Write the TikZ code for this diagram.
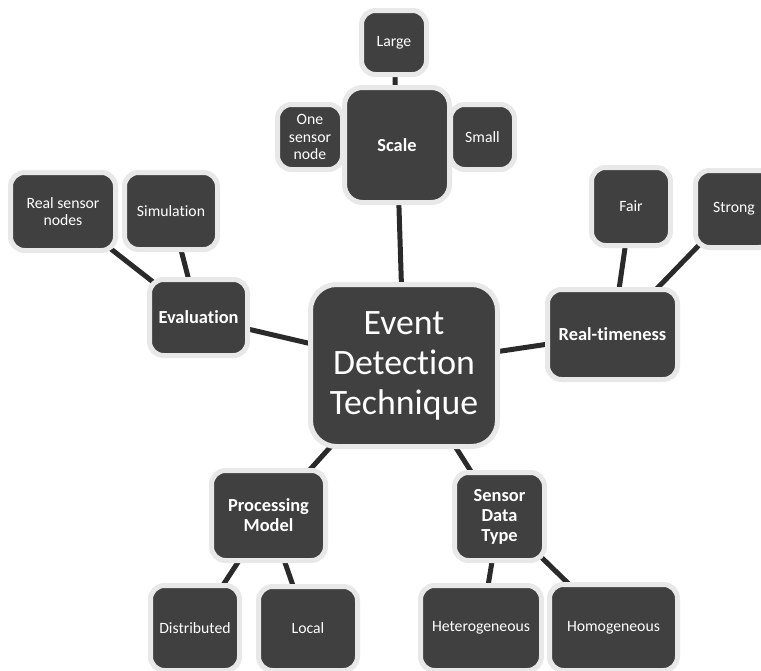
\documentclass[tikz,border=0pt]{standalone}
\usepackage{fontspec}
\setmainfont{Carlito}[Ligatures=NoCommon]
\usetikzlibrary{backgrounds}
\definecolor{boxfill}{HTML}{404040}
\definecolor{boxrim}{HTML}{E8E8E8}
\definecolor{linkcol}{HTML}{2A2A2A}
\def\px{0.75pt}
\tikzset{
  box/.style 2 args={draw=boxrim, fill=boxfill, line width=5*\px, text=white,
    rounded corners=14*\px, inner sep=0pt, align=center,
    minimum width=#1*\px+5*\px, minimum height=#2*\px+5*\px},
  leaf/.style={font=\fontsize{11.8}{13.3}\selectfont},
  topic/.style={font=\fontsize{13.8}{15}\selectfont\bfseries},
  hub/.style={font=\fontsize{26.8}{30}\selectfont, rounded corners=26*\px},
  link/.style={draw=linkcol, line width=5*\px}
}
\begin{document}
\begin{tikzpicture}[x=\px, y=-\px]
\useasboundingbox (0,0) rectangle (761,671);

% central topic
\node[box={182}{157}, hub] (edt) at (404,365.5) {Event\\Detection\\Technique};

% scale
\node[box={100}{110}, topic, rounded corners=18*\px] (scale) at (397,145) {Scale};
\node[box={60}{59}, leaf] (large) at (394,42.5) {Large};
\node[box={60}{60}, leaf] (one) at (310,137) {One\\sensor\\node};
\node[box={59}{60}, leaf] (small) at (482.5,137) {Small};

% evaluation
\node[box={93}{71}, topic] (eval) at (198.5,317.5) {Evaluation};
\node[box={100}{73}, leaf] (real) at (63,211.5) {Real sensor\\nodes};
\node[box={88}{72}, leaf] (sim) at (171,211) {Simulation};

% real-timeness
\node[box={125}{85}, topic] (rt) at (612.5,334.5) {Real-timeness};
\node[box={74}{73}, leaf] (fair) at (631,206.5) {Fair};
\node[box={72}{72}, leaf] (strong) at (734,209) {Strong};

% processing model
\node[box={109}{85}, topic] (pm) at (268.5,515.5) {Processing\\Model};
\node[box={84}{80}, leaf] (dist) at (195,628) {Distributed};
\node[box={94}{79}, leaf] (local) at (308,628.5) {Local};

% sensor data type
\node[box={85}{83}, topic] (sdt) at (499.5,516.5) {Sensor\\Data\\Type};
\node[box={116}{80}, leaf] (het) at (481,628) {Heterogeneous};
\node[box={123}{81}, leaf] (hom) at (613.5,627.5) {Homogeneous};

% connectors, behind the boxes
\begin{scope}[on background layer]
  \draw[link] (edt.center) -- (scale.center);
  \draw[link] (scale.center) -- (large.center);
  \draw[link] (edt.center) -- (eval.center);
  \draw[link] (eval.center) -- (real.center);
  \draw[link] (eval.center) -- (sim.center);
  \draw[link] (edt.center) -- (rt.center);
  \draw[link] (rt.center) -- (fair.center);
  \draw[link] (rt.center) -- (strong.center);
  \draw[link] (edt.center) -- (pm.center);
  \draw[link] (pm.center) -- (dist.center);
  \draw[link] (pm.center) -- (local.center);
  \draw[link] (edt.center) -- (sdt.center);
  \draw[link] (sdt.center) -- (het.center);
  \draw[link] (sdt.center) -- (hom.center);
\end{scope}
\end{tikzpicture}
\end{document}
